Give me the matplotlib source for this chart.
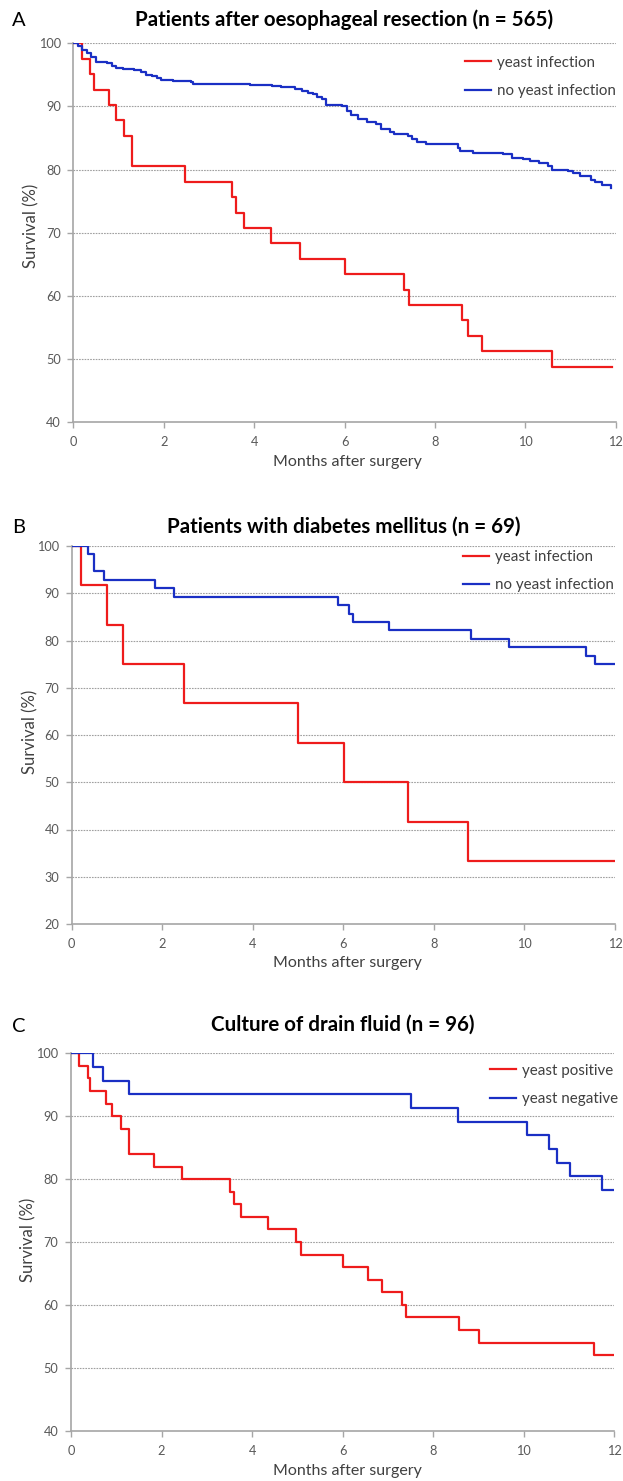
import matplotlib
matplotlib.use("Agg")
import matplotlib.pyplot as plt

plt.rcParams['font.family'] = ['Lato', 'DejaVu Sans']

# ---------------- data ----------------
months_ticks = [0, 2, 4, 6, 8, 10, 12]

# Panel A
A_title = "Patients after oesophageal resection (n = 565)"
A_labels = ["yeast infection", "no yeast infection"]
A_red_t = [0, 0.19, 0.38, 0.46, 0.79, 0.94, 1.12, 1.29, 2.47, 3.52, 3.61, 3.78,
           4.37, 5.01, 6.00, 7.32, 7.43, 8.59, 8.73, 9.05, 10.58, 11.91]
A_red_s = [100, 97.56, 95.12, 92.68, 90.24, 87.80, 85.37, 80.49, 78.05, 75.61,
           73.17, 70.73, 68.29, 65.85, 63.41, 60.98, 58.54, 56.10, 53.66, 51.22,
           48.78, 48.78]
A_blue_t = [0, 0.1, 0.2, 0.3, 0.4, 0.5, 0.75, 0.85, 0.95, 1.1, 1.35, 1.5, 1.6,
            1.75, 1.85, 1.95, 2.2, 2.6, 2.65, 3.55, 3.9, 4.4, 4.6, 4.9, 5.05,
            5.2, 5.3, 5.4, 5.5, 5.6, 5.95, 6.05, 6.15, 6.3, 6.5, 6.7, 6.8, 7.0,
            7.1, 7.4, 7.5, 7.6, 7.8, 8.5, 8.55, 8.85, 9.5, 9.7, 9.95, 10.1,
            10.3, 10.5, 10.6, 10.95, 11.05, 11.2, 11.45, 11.55, 11.7, 11.9]
A_blue_s = [100, 99.6, 99.0, 98.4, 97.8, 97.0, 96.8, 96.4, 96.1, 95.9, 95.8,
            95.4, 95.0, 94.8, 94.5, 94.2, 94.0, 93.8, 93.55, 93.5, 93.35, 93.2,
            93.0, 92.8, 92.5, 92.2, 91.9, 91.5, 91.2, 90.3, 90.0, 89.3, 88.6,
            88.0, 87.6, 87.2, 86.5, 85.9, 85.6, 85.3, 84.8, 84.4, 84.0, 83.4,
            83.0, 82.6, 82.4, 81.9, 81.6, 81.4, 81.0, 80.6, 80.0, 79.8, 79.4,
            78.9, 78.4, 78.0, 77.5, 77.0]

# Panel B
B_title = "Patients with diabetes mellitus (n = 69)"
B_labels = ["yeast infection", "no yeast infection"]
B_red_t = [0, 0.21, 0.79, 1.13, 2.47, 5.0, 6.02, 7.42, 8.75, 12]
B_red_s = [100, 91.67, 83.33, 75.0, 66.67, 58.33, 50.0, 41.67, 33.33, 33.33]
B_blue_t = [0, 0.37, 0.5, 0.72, 1.84, 2.27, 5.89, 6.12, 6.22, 7.01, 8.83, 9.66,
            11.35, 11.56, 12]
B_blue_s = [100, 98.21, 94.64, 92.86, 91.07, 89.29, 87.5, 85.71, 83.93, 82.14,
            80.36, 78.57, 76.79, 75.0, 75.0]

# Panel C
C_title = "Culture of drain fluid (n = 96)"
C_labels = ["yeast positive", "yeast negative"]
C_red_t = [0, 0.18, 0.38, 0.43, 0.77, 0.90, 1.10, 1.28, 1.83, 2.46, 3.51, 3.60,
           3.75, 4.36, 4.98, 5.09, 6.01, 6.57, 6.88, 7.32, 7.41, 8.56, 9.02,
           11.55, 12]
C_red_s = [100, 98, 96, 94, 92, 90, 88, 84, 82, 80, 78, 76, 74, 72, 70, 68, 66,
           64, 62, 60, 58, 56, 54, 52, 52]
C_blue_t = [0, 0.49, 0.71, 1.28, 7.51, 8.54, 10.07, 10.56, 10.74, 11.02, 11.73, 12]
C_blue_s = [100, 97.83, 95.65, 93.48, 91.30, 89.13, 86.96, 84.78, 82.61, 80.43,
            78.26, 78.26]

# ---------------- layout ----------------
W, H = 623, 1481
fig = plt.figure(figsize=(W / 100, H / 100), dpi=100)

RED = '#ee1c1c'
BLUE = '#1a2fc4'
GRAY_AX = '#a6a6a6'
TXT = '#404040'


def px_axes(l, r, t, b):
    return fig.add_axes([l / W, 1 - b / H, (r - l) / W, (b - t) / H])


panels = [
    dict(box=(73.3, 615.7, 43.3, 422), ylim=(40, 100), yt=range(40, 101, 10),
         title=A_title, letter="A", ty=20, xly=461.7, ylx=31.7, yly=226,
         red=(A_red_t, A_red_s), blue=(A_blue_t, A_blue_s), labels=A_labels,
         leg=(465, 62, 90)),
    dict(box=(71.7, 615, 546, 924), ylim=(20, 100), yt=range(20, 101, 10),
         title=B_title, letter="B", ty=526.5, xly=963.5, ylx=30, yly=732,
         red=(B_red_t, B_red_s), blue=(B_blue_t, B_blue_s), labels=B_labels,
         leg=(463, 557, 584)),
    dict(box=(71, 614.3, 1053.3, 1430.7), ylim=(40, 100), yt=range(40, 101, 10),
         title=C_title, letter="C", ty=1025, xly=1471.5, ylx=28.5, yly=1240,
         red=(C_red_t, C_red_s), blue=(C_blue_t, C_blue_s), labels=C_labels,
         leg=(490, 1070, 1098)),
]

for p in panels:
    l, r, t, b = p['box']
    ax = px_axes(l, r, t, b)
    ax.set_xlim(0, 12)
    ax.set_ylim(*p['ylim'])
    ax.set_xticks(months_ticks)
    ax.set_yticks(list(p['yt']))
    for y in list(p['yt'])[1:]:
        ax.axhline(y, color='#a0a0a0', lw=0.8, ls=(0, (1.5, 1.0)), zorder=1)
    ax.step(p['red'][0], p['red'][1], where='post', color=RED, lw=1.6,
            label=p['labels'][0], zorder=3)
    ax.step(p['blue'][0], p['blue'][1], where='post', color=BLUE, lw=1.6,
            label=p['labels'][1], zorder=3)
    for s in ['top', 'right']:
        ax.spines[s].set_visible(False)
    for s in ['left', 'bottom']:
        ax.spines[s].set_color(GRAY_AX)
        ax.spines[s].set_linewidth(1.2)
    ax.tick_params(axis='both', direction='out', length=4, width=1.0,
                   color=GRAY_AX, labelcolor='#595959', labelsize=9.2)
    ax.tick_params(axis='x', pad=6)
    ax.tick_params(axis='y', pad=5)
    ax.set_xlabel("Months after surgery", fontsize=11.5, color=TXT)
    ax.set_ylabel("Survival (%)", fontsize=12, color=TXT)
    ax.yaxis.set_label_coords(-(l - p['ylx']) / (r - l), (b - p['yly']) / (b - t))
    ax.yaxis.label.set_va('center')
    ax.xaxis.set_label_coords((347.5 - l) / (r - l), -(p['xly'] - b) / (b - t))
    ax.xaxis.label.set_va('center')
    # title and letter (figure coordinates)
    fig.text((l + r) / 2 / W, 1 - p['ty'] / H, p['title'], ha='center',
             va='center', fontsize=14.8, fontweight='bold', color='black')
    fig.text(12 / W, 1 - (p['ty'] + 1) / H, p['letter'], ha='left',
             va='center', fontsize=14.5, color='black')
    lx, ly1, ly2 = p['leg']
    fs = 10.9
    em = fs * 100 / 72
    top = ly1 - 6.5
    ax.legend(loc='upper left',
              bbox_to_anchor=((lx - l) / (r - l), (b - top) / (b - t)),
              frameon=False, fontsize=fs, handlelength=1.7, handletextpad=0.4,
              borderpad=0, borderaxespad=0,
              labelspacing=((ly2 - ly1) - 13) / em,
              labelcolor=TXT)

fig.savefig("out.png", dpi=100)
